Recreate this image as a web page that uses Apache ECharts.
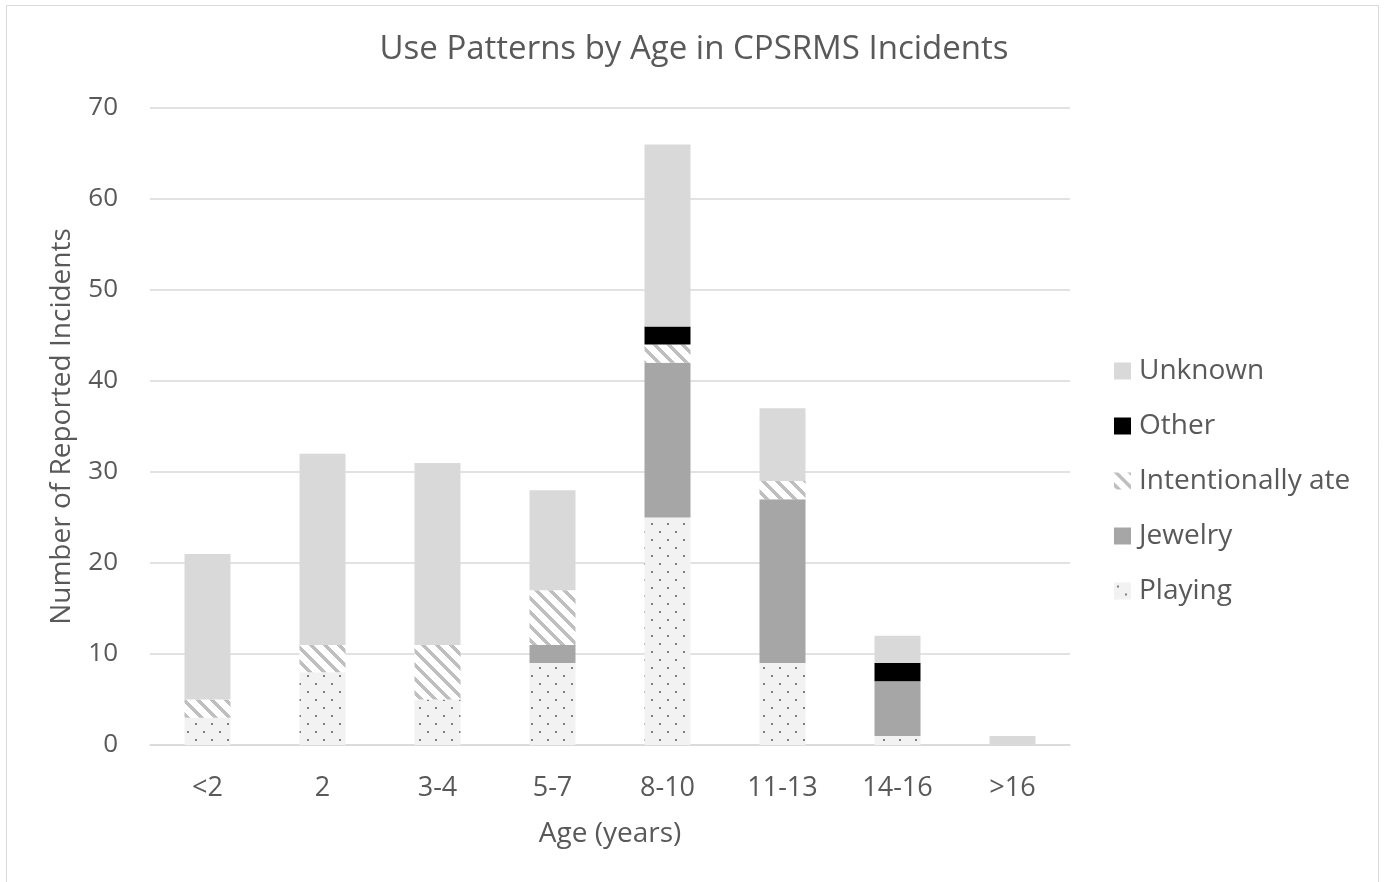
<!DOCTYPE html>
<html>
<head>
<meta charset="utf-8">
<script src="https://cdn.jsdelivr.net/npm/echarts@6/dist/echarts.min.js"></script>
<style>
html,body{margin:0;padding:0;background:#fff;}
#c{width:1385px;height:882px;}
</style>
</head>
<body>
<div id="c"></div>
<script>
const categories = ['<2','2','3-4','5-7','8-10','11-13','14-16','>16'];
const playing   = [3, 8, 5, 9, 25, 9, 1, 0];
const jewelry   = [0, 0, 0, 2, 17, 18, 6, 0];
const ate       = [2, 3, 6, 6, 2, 2, 0, 0];
const other     = [0, 0, 0, 0, 2, 0, 2, 0];
const unknown   = [16, 21, 20, 11, 20, 8, 3, 1];
const legendOrder = ['Unknown','Other','Intentionally ate','Jewelry','Playing'];

function makeDots(){
  const s = 16, cv = document.createElement('canvas');
  cv.width = s; cv.height = s;
  const g = cv.getContext('2d');
  g.fillStyle = '#f2f2f2'; g.fillRect(0,0,s,s);
  g.fillStyle = '#808080';
  g.fillRect(3,3,2,2); g.fillRect(11,11,2,2);
  return {image: cv, repeat: 'repeat'};
}
function makeStripes(){
  const s = 14, cv = document.createElement('canvas');
  cv.width = s; cv.height = s;
  const g = cv.getContext('2d');
  g.fillStyle = '#ffffff'; g.fillRect(0,0,s,s);
  g.fillStyle = '#bfbfbf';
  for (let y=0;y<s;y++) for (let x=0;x<s;x++){
    if ((((x - y) % s) + s) % s < 5) g.fillRect(x,y,1,1);
  }
  return {image: cv, repeat: 'repeat'};
}

const font = '"Open Sans", sans-serif';
const txt = '#595959';
const chart = echarts.init(document.getElementById('c'), null, {renderer:'canvas'});

function bar(name, data, color){
  return {name, type:'bar', stack:'t', data, barWidth:46,
    itemStyle:{color}, emphasis:{disabled:true}};
}

chart.setOption({
  animation:false,
  backgroundColor:'#fff',
  title:{text:'Use Patterns by Age in CPSRMS Incidents', left:689, textAlign:'center', top:28,
    textStyle:{fontFamily:font, fontSize:33, fontWeight:'normal', color:txt}},
  grid:{left:150, right:315, top:108, bottom:137},
  legend:{orient:'vertical', left:1109, top:352, itemGap:27, itemWidth:17, itemHeight:17,
    icon:'rect', data:legendOrder,
    textStyle:{fontFamily:font, fontSize:28, lineHeight:28, color:txt, padding:[0,0,0,3]}},
  xAxis:{type:'category', data:categories,
    name:'Age (years)', nameLocation:'middle', nameGap:75,
    nameTextStyle:{fontFamily:font, fontSize:28, color:txt},
    axisLine:{lineStyle:{color:'#d9d9d9', width:1.5}},
    axisTick:{show:false},
    axisLabel:{fontFamily:font, fontSize:27, color:txt, margin:30}},
  yAxis:{type:'value', min:0, max:70, interval:10,
    name:'Number of Reported Incidents', nameLocation:'middle', nameGap:74,
    nameTextStyle:{fontFamily:font, fontSize:28, color:txt},
    axisLine:{show:false}, axisTick:{show:false},
    splitLine:{lineStyle:{color:'#d9d9d9', width:1.5}},
    axisLabel:{fontFamily:font, fontSize:26, color:txt, margin:32}},
  graphic:[{type:'rect', shape:{x:6.5,y:5.5,width:1372,height:880},
    style:{fill:null, stroke:'#d9d9d9', lineWidth:1}, silent:true}],
  series:[
    bar('Playing', playing, makeDots()),
    bar('Jewelry', jewelry, '#a6a6a6'),
    bar('Intentionally ate', ate, makeStripes()),
    bar('Other', other, '#000000'),
    bar('Unknown', unknown, '#d9d9d9')
  ]
});
</script>
</body>
</html>
